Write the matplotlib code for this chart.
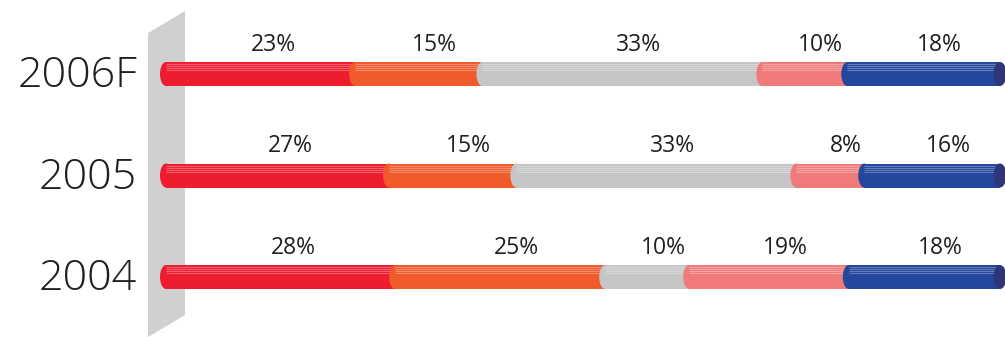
import matplotlib.pyplot as plt
from matplotlib.patches import Rectangle, Ellipse, Polygon

plt.rcParams['font.family'] = ['Open Sans', 'DejaVu Sans']

# bottom to top
years = ["2004", "2005", "2006F"]
shares = [
    [28, 25, 10, 19, 18],
    [27, 15, 33, 8, 16],
    [23, 15, 33, 10, 18],
]
colors = ["#ed1c2e", "#f15a2b", "#c6c6c6", "#f07a7a", "#22479d"]
cap_color = "#2f3579"
text_color = "#231f20"

W, H = 1005, 337
fig = plt.figure(figsize=(W / 100, H / 100), dpi=100)
ax = fig.add_axes([0, 0, 1, 1])

# x: percent of bar length (0..100 -> 160..1000 px); y: one unit per row
px_x = 8.4
px_y = 101.5
ax.set_xlim(-160 / px_x, (W - 160) / px_x)
ax.set_ylim(-60 / px_y, (H - 60) / px_y)
ax.axis("off")


def to_data(px, py):
    return ((px - 160) / px_x, (H - py - 60) / px_y)


# grey backing wall
wall = Polygon([to_data(148, 33), to_data(185, 11), to_data(185, 315), to_data(148, 337)],
               closed=True, facecolor="#d0d0d0", edgecolor="none", zorder=1)
ax.add_patch(wall)

bar_h = 24 / px_y
end_w = 12 / px_x

for row, (year, vals) in enumerate(zip(years, shares)):
    total = sum(vals)
    left = 0.0
    for i, (v, c) in enumerate(zip(vals, colors)):
        width = v / total * 100
        z = 2 + i
        start = left + end_w / 2 if i == 0 else left
        ax.add_patch(Rectangle((start, row - bar_h / 2), left + width - start, bar_h,
                               facecolor=c, edgecolor="none", zorder=z))
        ax.add_patch(Ellipse((start, row), end_w, bar_h,
                             facecolor=c, edgecolor="none", zorder=z))
        # light stripes on the upper half of the tube
        for off in [0.3, 0.48, 0.64, 0.8]:
            ax.hlines(row + off * bar_h / 2, start, left + width,
                      colors="white", linewidth=0.8, alpha=0.3, zorder=z + 0.1)
        ax.text(left + width / 2 + 1.9, row + 0.29, f"{v}%",
                ha="center", va="center", fontsize=16.5,
                color=text_color, zorder=10)
        left += width
    # dark end cap of the tube
    ax.add_patch(Ellipse((left, row), 1.55, bar_h, facecolor=cap_color,
                         edgecolor="none", zorder=8))
    ax.text(-23 / px_x, row - 0.02, year, ha="right", va="center",
            fontsize=31, fontweight="light", color=text_color)

fig.savefig("out.png", dpi=100)
